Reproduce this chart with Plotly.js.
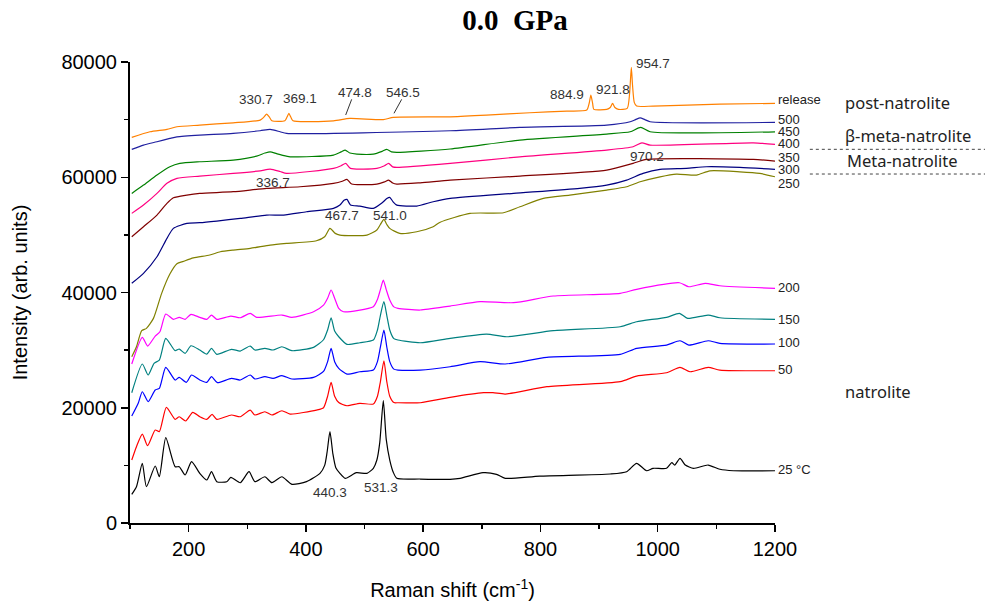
<!DOCTYPE html>
<html>
<head>
<meta charset="utf-8">
<script src="https://cdn.plot.ly/plotly-3.0.1.min.js"></script>
<style>html,body{margin:0;padding:0;background:#fff;}#chart{width:991px;height:607px;}</style>
</head>
<body>
<div id="chart"></div>
<script>
// ---- data (Raman shift in cm-1, intensity in arb. units) ----
const seriesNames = ["25 °C", "50", "100", "150", "200", "250", "300", "350", "400", "450", "500", "release"];

const x25 = [103,111,121,128,143,150,161,177,184,194,205,219,231,239,248,265,272,288,303,313,330,342,359,376,401,424,432,436,441,446,451,458,467,486,504,515,521,526,532,537,543,549,555,595,646,663,702,725,740,799,919,947,964,981,992,1015,1024,1029,1038,1047,1061,1086,1106,1129,1200];
const y25 = [4980,6300,10360,6300,9890,8030,14800,9770,9770,8330,10640,8620,7460,8900,7170,7170,7930,6990,8900,7170,8030,6990,8030,6710,7170,8620,10000,12200,15840,12000,9600,8620,7750,8730,8620,9500,10930,14000,21220,14500,10930,8800,7750,7630,7580,7750,8730,8450,7750,8150,8500,8900,10360,9070,9490,9490,10460,10060,11220,10060,9490,10060,9320,9070,9070];

const x50 = [103,111,121,130,143,150,162,177,184,195,207,219,231,240,248,273,288,305,313,330,342,359,373,418,430,437,443,449,456,470,492,515,522,527,533,538,543,550,557,595,646,703,719,740,811,936,964,1015,1038,1055,1086,1106,1200];
const y50 = [10930,13240,15440,13410,16140,15840,20070,17990,18440,17700,19210,18440,17990,18860,17990,18740,18440,19600,18740,19310,18740,19480,18910,19600,20000,22000,24410,22000,20900,20350,20770,20650,22000,24500,28160,24500,22000,20900,20870,20870,21810,22610,22610,22380,23650,24520,25500,26080,27010,26250,27010,26540,26420];

const x100 = [103,114,121,131,143,150,161,177,184,196,205,219,231,239,249,273,288,305,313,330,344,359,376,413,430,437,443,449,456,470,492,515,522,527,533,538,543,550,557,595,646,697,740,811,936,964,1015,1038,1053,1086,1106,1200];
const y100 = [18560,20770,22780,21050,23080,23370,27010,24810,25280,24410,25680,24810,24410,25390,24350,25100,24810,25680,24990,25390,25100,25570,24990,25280,26300,28000,30310,28000,26840,25850,26250,26540,28000,30500,33490,30500,28000,26700,26540,26540,27120,27990,27590,28750,29270,30310,30880,31630,30880,31630,31180,31060];

const x150 = [103,121,131,141,150,161,177,184,194,204,219,231,239,248,273,288,305,313,330,344,359,376,413,430,437,443,449,456,470,492,515,522,527,533,538,543,550,557,595,646,708,742,822,936,964,1015,1037,1051,1086,1106,1200];
const y150 = [22610,27590,25680,27710,28280,32040,29900,30190,29440,30760,30020,29320,30310,29270,30140,29840,30710,30020,30310,30020,30590,29900,30480,31800,33500,35620,33300,32320,31000,31280,31750,33500,36000,38400,36000,33500,32000,31750,31280,32040,32790,32320,33370,34060,34930,35690,36380,35510,36090,35620,35340];

const x200 = [103,121,130,143,151,161,174,184,194,204,219,231,239,248,272,288,305,316,359,376,413,430,437,443,449,456,464,515,522,527,532,537,543,550,557,595,646,697,754,822,936,964,1037,1053,1081,1106,1200];
const y200 = [27590,32220,30710,32440,33190,36260,35340,35690,35340,36210,35690,35340,36090,35340,35910,35620,36380,35690,36090,35690,36660,37800,39000,40430,39000,37250,36660,37530,38800,40500,42160,40500,38690,37500,37250,36960,37650,38400,38230,39390,39850,40550,41690,41000,41590,41170,40720];

const x250 = [103,111,120,128,140,154,168,180,191,208,236,254,276,305,339,367,418,432,441,450,458,504,521,527,533,538,543,560,589,617,629,680,737,765,805,850,913,947,970,1004,1032,1066,1089,1140,1174,1200];
const y250 = [28850,30590,33370,33780,35510,39850,43200,45000,45400,46000,46500,47070,47370,47660,48230,48530,48980,49670,51130,50260,49970,49970,50840,51800,52690,51800,51130,50260,50540,51410,52200,53730,53840,54880,56330,56910,57780,58350,59220,60080,60550,60380,61120,60950,60670,60080];

const x300 = [103,123,146,163,174,197,219,248,288,333,362,401,447,458,465,470,476,492,515,529,538,543,549,555,589,617,646,754,867,913,947,975,1004,1049,1083,1140,1200];
const y300 = [41590,43320,46200,49390,51130,51990,52110,52400,52860,53440,53440,54010,54600,55170,56000,56160,55200,55000,54600,55470,56300,56510,55700,55170,55000,55750,56330,57200,58070,58640,59510,60670,61370,61540,61820,61710,61370];

const x350 = [103,123,146,163,174,197,219,276,333,390,447,462,470,478,521,534,541,548,555,595,646,765,913,958,981,1163,1200];
const y350 = [49670,51410,53440,55470,56440,56910,57200,57490,58070,58350,58940,59300,59630,58820,58820,59200,59510,59000,58820,59040,59500,60200,61250,62410,63100,63100,62810];

const x400 = [103,123,146,163,180,219,276,322,339,356,367,447,460,468,476,521,534,541,548,555,646,765,913,958,973,987,1163,1200];
const y400 = [53730,55170,57200,58940,59800,60200,60670,61120,61420,61000,60670,61540,62000,62410,61540,61540,62000,62410,61800,61710,62400,63550,64720,65290,65980,65580,65980,65700];

const x450 = [103,123,146,168,185,219,276,316,330,339,350,359,373,447,460,467,475,487,515,530,538,546,555,646,765,913,953,971,987,1200];
const y450 = [57200,58640,60380,61820,62410,62690,62980,63670,64200,64420,64100,63850,63550,63850,64400,64720,64200,64020,64020,64500,64840,64400,64320,64900,66450,67490,67890,68650,67890,67890];

const x500 = [103,123,146,168,180,219,276,322,339,356,367,646,765,913,953,962,970,978,987,1200];
const y500 = [64840,65580,66160,66740,67020,67320,67610,68070,68310,67900,67610,68070,68650,69050,69630,70000,70320,70000,69630,69520];

const xRel = [103,134,163,180,219,276,322,328,333,338,342,364,368,371,374,378,447,475,532,549,646,708,782,845,879,883,886,889,891,913,919,923,927,933,948,952,955,957,960,964,992,1106,1200];
const yRel = [66910,67890,68310,68760,69050,69450,69920,70400,70960,70400,69800,69800,70500,71080,70500,69800,69800,70200,70000,70390,70490,70790,71190,71480,71660,72800,74260,72800,71780,71780,72100,72820,72100,71780,71950,74500,79060,76000,73000,72350,72350,72700,72820];

const peakLabels = ["330.7","369.1","474.8","546.5","884.9","921.8","954.7","970.2","336.7","467.7","541.0","440.3","531.3"];
const phaseLabels = ["post-natrolite","β-meta-natrolite","Meta-natrolite","natrolite"];
const xTickVals = [200,400,600,800,1000,1200];
const yTickVals = [0,20000,40000,60000,80000];

// ---- build traces ----
const xs = [x25,x50,x100,x150,x200,x250,x300,x350,x400,x450,x500,xRel];
const ys = [y25,y50,y100,y150,y200,y250,y300,y350,y400,y450,y500,yRel];
const colors = ["#000000","#ff0000","#0000ff","#008080","#ff00ff","#808000","#000080","#800000","#ff0080","#008000","#2020a0","#ff8000"];

const traces = xs.map((x,i)=>({
  x: x, y: ys[i], type:'scatter', mode:'lines', name: seriesNames[i],
  line:{color:colors[i], width:1.2, shape:'spline', smoothing:0.6},
  hoverinfo:'skip'
}));

// label positions (paper coordinates)
const peakPos = [[0.1953,0.9176],[0.2636,0.9219],[0.3488,0.9349],[0.4233,0.9349],[0.677,0.930],[0.749,0.9408],[0.8113,0.9957],[0.801,0.796],[0.2222,0.7382],[0.3282,0.6666],[0.4031,0.6681],[0.3101,0.0666],[0.3891,0.0774]];
const endPos = [0.115,0.3319,0.3905,0.4425,0.5098,0.7354,0.7672,0.7924,0.8236,0.8488,0.8742,0.9197];
const phasePos = [[1.105,0.9115],[1.105,0.8409],[1.108,0.7874],[1.105,0.2842]];

const annotations = [];
peakLabels.forEach((t,i)=>annotations.push({text:t, xref:'paper', yref:'paper', x:peakPos[i][0], y:peakPos[i][1], xanchor:'center', yanchor:'middle', showarrow:false, font:{family:'Liberation Sans, Arial, sans-serif', size:13.5, color:'#333'}}));
seriesNames.forEach((t,i)=>annotations.push({text:t, xref:'paper', yref:'paper', x:1.0016, y:endPos[i], xanchor:'left', yanchor:'middle', showarrow:false, font:{family:'Liberation Sans, Arial, sans-serif', size:13, color:'#222'}}));
phaseLabels.forEach((t,i)=>annotations.push({text:t, xref:'paper', yref:'paper', x:phasePos[i][0], y:phasePos[i][1], xanchor:'left', yanchor:'middle', showarrow:false, font:{family:'Noto Sans, sans-serif', size:16.5, color:'#222'}}));

const shapes = [
  {type:'line', xref:'paper', yref:'paper', x0:0.3437, y0:0.9190, x1:0.3344, y1:0.8850, line:{color:'#333', width:1}},
  {type:'line', xref:'paper', yref:'paper', x0:0.4212, y0:0.9190, x1:0.4093, y1:0.8887, line:{color:'#333', width:1}},
  {type:'line', xref:'paper', yref:'paper', x0:1.054, y0:0.8106, x1:1.3256, y1:0.8106, line:{color:'#444', width:1, dash:'dot'}},
  {type:'line', xref:'paper', yref:'paper', x0:1.054, y0:0.757, x1:1.3256, y1:0.757, line:{color:'#444', width:1, dash:'dot'}}
];

const layout = {
  width:991, height:607,
  margin:{l:130, r:216, t:62, b:84},
  paper_bgcolor:'#fff', plot_bgcolor:'#fff',
  showlegend:false,
  title:{text:'<b>0.0\u00A0 GPa</b>', font:{family:'Liberation Serif, Times New Roman, serif', size:29, color:'#000'}, x:0.597, xref:'paper', xanchor:'center', y:0.967, yref:'container', yanchor:'middle'},
  xaxis:{
    range:[100,1200], tickvals:xTickVals, ticks:'outside', ticklen:7, tickwidth:1.5, tickcolor:'#000',
    minor:{dtick:100, tick0:100, ticks:'outside', ticklen:4, tickwidth:1.5, tickcolor:'#000'},
    showline:true, linewidth:2, linecolor:'#000', showgrid:false, zeroline:false,
    tickfont:{family:'Liberation Sans, Arial, sans-serif', size:20, color:'#000'},
    title:{text:'Raman shift (cm<sup>-1</sup>)', font:{family:'Liberation Sans, Arial, sans-serif', size:20, color:'#000'}, standoff:24},
    automargin:false
  },
  yaxis:{
    range:[0,80000], tickvals:yTickVals, tickformat:'d', ticks:'outside', ticklen:7, tickwidth:1.5, tickcolor:'#000',
    minor:{dtick:10000, tick0:0, ticks:'outside', ticklen:4, tickwidth:1.5, tickcolor:'#000'},
    showline:true, linewidth:2, linecolor:'#000', showgrid:false, zeroline:false,
    tickfont:{family:'Liberation Sans, Arial, sans-serif', size:20, color:'#000'},
    title:{text:'Intensity (arb. units)', font:{family:'Liberation Sans, Arial, sans-serif', size:20, color:'#000'}, standoff:28},
    automargin:false
  },
  annotations:annotations,
  shapes:shapes
};

Plotly.newPlot('chart', traces, layout, {displayModeBar:false, staticPlot:true});
</script>
</body>
</html>
